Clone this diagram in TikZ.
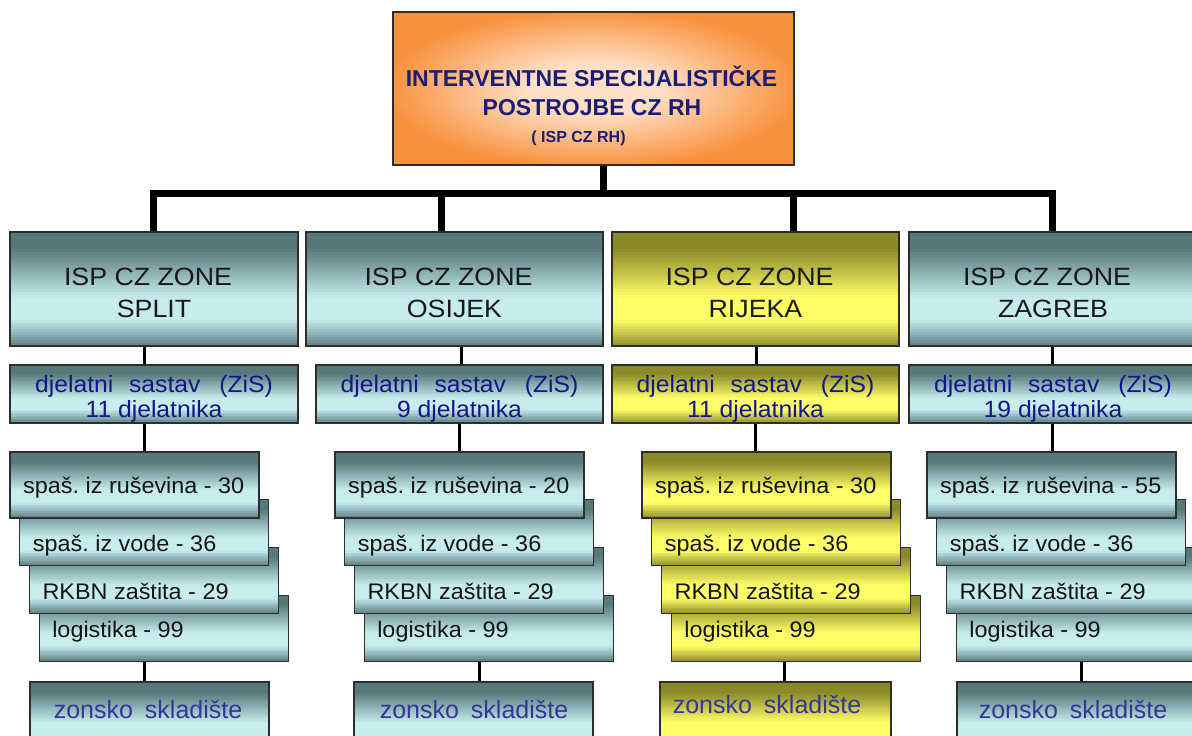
\documentclass[tikz,border=0pt]{standalone}
\usepackage{graphicx}
\usepackage{fontspec}
\setmainfont{Liberation Sans}
\usetikzlibrary{backgrounds,calc}
\definecolor{tealD}{HTML}{57797C}
\definecolor{tealB}{HTML}{5E8185}
\definecolor{tealL}{HTML}{C6ECEE}
\definecolor{yelD}{HTML}{8A8A2A}
\definecolor{yelB}{HTML}{909030}
\definecolor{yelL}{HTML}{FFFF68}
\definecolor{orO}{HTML}{F8913C}
\definecolor{orI}{HTML}{FFE0C6}
\definecolor{topblue}{HTML}{1C1C78}
\definecolor{djblue}{HTML}{14148C}
\definecolor{zblue}{HTML}{35359A}
\definecolor{edgec}{HTML}{2E2E2E}
\pgfdeclareradialshading{orsh}{\pgfpoint{0bp}{0bp}}{color(0bp)=(orI); color(8bp)=(orI); color(26bp)=(orO); color(50bp)=(orO)}
\newcommand{\hx}[2]{\scalebox{#1}[1]{#2}}
% vertical gradient in strips: dark top, pale band, dark bottom
\newcommand{\gradfill}[3]{%
  \coordinate (gnw) at (path picture bounding box.north west);
  \coordinate (gsw) at (path picture bounding box.south west);
  \coordinate (gne) at (path picture bounding box.north east);
  \coordinate (gse) at (path picture bounding box.south east);
  \foreach \i in {0,...,39}{%
    \pgfmathsetmacro{\ff}{\i/40}%
    \pgfmathsetmacro{\fm}{(\i+0.5)/40}%
    \pgfmathsetmacro{\gg}{min(1,(\i+1.4)/40)}%
    \ifdim\fm pt<0.6pt
      \pgfmathsetmacro{\pp}{max(0,min(100,100*(0.58-\fm)/0.43))}%
      \fill[#1!\pp!#2] ($(gnw)!\ff!(gsw)$) rectangle ($(gne)!\gg!(gse)$);
    \else
      \pgfmathsetmacro{\pp}{max(0,min(100,100*(\fm-0.77)/0.23))}%
      \fill[#3!\pp!#2] ($(gnw)!\ff!(gsw)$) rectangle ($(gne)!\gg!(gse)$);
    \fi
  }%
}
\tikzset{
  box/.style={draw=edgec, line width=1.1pt, inner sep=0pt, outer sep=0pt, rectangle, anchor=north west},
  gbox/.style={box, path picture={\gradfill{#1D}{#1L}{#1B}}},
  trunk/.style={line width=7pt, black, line cap=butt, line join=miter},
  twig/.style={line width=3pt, black},
  toptext/.style={anchor=base, inner sep=0pt, text=topblue, font=\bfseries\fontsize{23}{27}\selectfont},
  toptextsm/.style={anchor=base, inner sep=0pt, text=topblue, font=\bfseries\fontsize{16}{19}\selectfont},
  ztext/.style={anchor=base, inner sep=0pt, text=black!90, font=\fontsize{25}{29}\selectfont},
  djtext/.style={anchor=base, inner sep=0pt, text=djblue, font=\fontsize{23.5}{27}\selectfont},
  sttext/.style={anchor=base west, inner sep=0pt, text=black!92, font=\fontsize{22.5}{26}\selectfont\frenchspacing},
  kztext/.style={anchor=base, inner sep=0pt, text=zblue, font=\fontsize{25}{29}\selectfont},
}
\begin{document}
\begin{tikzpicture}[x=1pt,y=-1pt]
\useasboundingbox (0,0) rectangle (1192,736);
\clip (0,0) rectangle (1192,736);
% top box
\node[box, shading=orsh, minimum width=401, minimum height=153] (top) at (393,12) {};
\node[toptext] (t1) at (591.5,86) {INTERVENTNE SPECIJALISTIČKE};
\node[toptext] (t2) at (592,115) {POSTROJBE CZ RH};
\node[toptextsm] (t3) at (578.5,142) {( ISP CZ RH)};
\coordinate (stem) at (603,193);
\coordinate (drS) at (153,193);
\coordinate (drO) at (441,193);
\coordinate (drR) at (793,193);
\coordinate (drZ) at (1052,193);
\foreach \n/\zx/\zw/\dx/\dw/\ca/\cb/\sx/\cc/\kx/\kw/\kt/\kb/\sh/\city/\cnt/\rus in {
  S/10/288/10/288/144/144/10/144/30/239/148/718/teal/SPLIT/11/30,
  O/306/297/316/287/461/459/335/479/354/239/474/718/teal/OSIJEK/9/20,
  R/612/287/612/287/756/755/642/784/660/231/767/713/yel/RIJEKA/11/30,
  Z/909/288/909/288/1052/1052/927/1081/957/239/1073/718/teal/ZAGREB/19/55}{
  \pgfmathsetmacro{\zc}{\zx+\zw/2}
  \pgfmathsetmacro{\dc}{\dx+\dw/2}
  % zone box
  \node[gbox=\sh, minimum width=\zw, minimum height=114] (z\n) at (\zx,232) {};
  \node[ztext] (z\n a) at (\zc-6,285) {\hx{1.07}{ISP CZ ZONE}};
  \node[ztext] (z\n b) at (\zc,317) {\hx{1.07}{\city}};
  % djelatni box
  \node[gbox=\sh, minimum width=\dw, minimum height=58] (d\n) at (\dx,365) {};
  \node[djtext] (d\n a) at (\dc,392) {\hx{1.05}{djelatni\hspace{15pt}sastav\hspace{18pt}(ZiS)}};
  \node[djtext] (d\n b) at (\dc,417) {\hx{1.05}{\cnt\ djelatnika}};
  % stack
  \foreach \k/\bl/\lab in {3/637/logistika - 99, 2/599/RKBN zaštita - 29, 1/551/spaš. iz vode - 36, 0/493/spaš. iz ruševina - \rus}{
    \node[gbox=\sh, minimum width=249, minimum height=66] (s\n\k) at (\sx+9.7*\k,452+47.7*\k) {};
    \node[sttext] (s\n\k t) at (\sx+9.7*\k+13,\bl) {\hx{1.04}{\lab}};
  }
  % zonsko skladiste
  \node[gbox=\sh, minimum width=\kw, minimum height=70] (k\n) at (\kx,682) {};
  \node[kztext] (k\n t) at (\kt,\kb) {zonsko\hspace{12pt}skladište};
  % connectors
  \begin{scope}[on background layer]
    \coordinate (ca\n) at (\ca,346);
    \coordinate (cb\n) at (\cb,423);
    \coordinate (cc\n) at (\cc,662);
    \draw[twig] (ca\n) -- (ca\n |- d\n.north);
    \draw[twig] (cb\n) -- (cb\n |- s\n0.north);
    \draw[twig] (cc\n) -- (cc\n |- k\n.north);
  \end{scope}
}
\begin{scope}[on background layer]
  \draw[trunk] (stem) -- (stem |- top.south);
  \draw[trunk] (drS |- zS.north) -- (drS) -- (drZ) -- (drZ |- zZ.north);
  \draw[trunk] (drO) -- (drO |- zO.north);
  \draw[trunk] (drR) -- (drR |- zR.north);
\end{scope}
\end{tikzpicture}
\end{document}
